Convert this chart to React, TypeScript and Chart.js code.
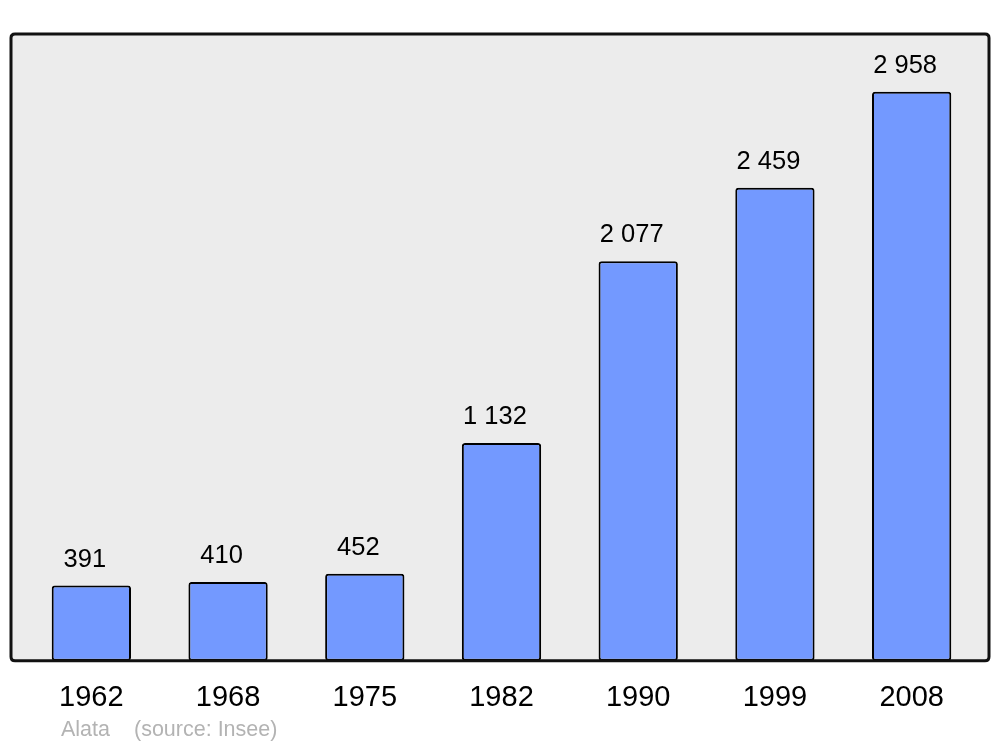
import React, { useEffect, useRef } from "react";
import { Chart, registerables } from "chart.js";

Chart.register(...registerables);

const years = ["1962", "1968", "1975", "1982", "1990", "1999", "2008"];
const population = [391, 410, 452, 1132, 2077, 2459, 2958];
const footerName = "Alata";
const footerSource = "(source: Insee)";
const yMax = 3258;

const FONT = "'Liberation Sans', Arial, sans-serif";

function fmt(n: number): string {
  return String(n).replace(/\B(?=(\d{3})+(?!\d))/g, " ");
}

function roundRect(ctx: CanvasRenderingContext2D, x: number, y: number, w: number, h: number, r: number) {
  ctx.beginPath();
  ctx.moveTo(x + r, y);
  ctx.lineTo(x + w - r, y);
  ctx.quadraticCurveTo(x + w, y, x + w, y + r);
  ctx.lineTo(x + w, y + h - r);
  ctx.quadraticCurveTo(x + w, y + h, x + w - r, y + h);
  ctx.lineTo(x + r, y + h);
  ctx.quadraticCurveTo(x, y + h, x, y + h - r);
  ctx.lineTo(x, y + r);
  ctx.quadraticCurveTo(x, y, x + r, y);
  ctx.closePath();
}

const framePlugin = {
  id: "frame",
  beforeDatasetsDraw(chart: any) {
    const { ctx, chartArea } = chart;
    const x = chartArea.left - 12;
    const y = chartArea.top;
    const w = chartArea.right + 9 - x;
    const h = chartArea.bottom - y;
    ctx.save();
    roundRect(ctx, x, y, w, h, 4);
    ctx.fillStyle = "#ececec";
    ctx.fill();
    ctx.restore();
  },
  afterDatasetsDraw(chart: any) {
    const { ctx, chartArea } = chart;
    const x = chartArea.left - 12;
    const y = chartArea.top;
    const w = chartArea.right + 9 - x;
    const h = chartArea.bottom - y;
    ctx.save();
    roundRect(ctx, x, y, w, h, 4);
    ctx.lineWidth = 3;
    ctx.strokeStyle = "#111111";
    ctx.stroke();

    // value labels
    const meta = chart.getDatasetMeta(0);
    ctx.fillStyle = "#000000";
    ctx.font = `25.5px ${FONT}`;
    ctx.textAlign = "center";
    ctx.textBaseline = "alphabetic";
    meta.data.forEach((bar: any, i: number) => {
      const v = chart.data.datasets[0].data[i] as number;
      ctx.fillText(fmt(v), bar.x - 6.5, bar.y - 19);
    });

    // footer
    ctx.fillStyle = "#b3b3b3";
    ctx.font = `21.5px ${FONT}`;
    ctx.textAlign = "left";
    ctx.textBaseline = "middle";
    ctx.fillText(footerName, 61, 730);
    ctx.fillText(footerSource, 134, 730);
    ctx.restore();
  },
};

export default function App() {
  const ref = useRef<HTMLCanvasElement | null>(null);

  useEffect(() => {
    document.body.style.margin = "0";
    if (!ref.current) return;
    const chart = new Chart(ref.current, {
      type: "bar",
      data: {
        labels: years,
        datasets: [
          {
            data: population,
            backgroundColor: "#7399ff",
            borderColor: "#000000",
            borderWidth: 2,
            borderRadius: 3,
            borderSkipped: false,
            categoryPercentage: 1,
            barPercentage: 0.58,
          },
        ],
      },
      options: {
        animation: false,
        responsive: false,
        maintainAspectRatio: false,
        layout: { padding: { left: 23, right: 20, top: 34, bottom: 11.4 } },
        plugins: { legend: { display: false }, tooltip: { enabled: false } },
        scales: {
          x: {
            grid: { display: false, drawTicks: false },
            border: { display: false },
            ticks: {
              color: "#000000",
              font: { size: 29, family: FONT },
              padding: 20,
            },
          },
          y: { display: false, min: 0, max: yMax },
        },
      },
      plugins: [framePlugin],
    });
    return () => chart.destroy();
  }, []);

  return <canvas ref={ref} width={1000} height={747} style={{ display: "block" }} />;
}
